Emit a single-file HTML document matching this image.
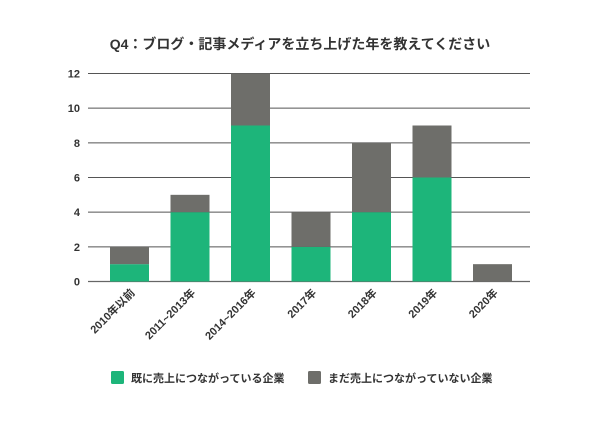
<!DOCTYPE html>
<html><head><meta charset="utf-8"><style>
body{margin:0;background:#fff;}
svg text{font-family:"Liberation Sans","Noto Sans CJK JP",sans-serif;}
</style></head><body>
<svg id="chart" width="600" height="419" viewBox="0 0 600 419" xmlns="http://www.w3.org/2000/svg">
<text x="300" y="49" text-anchor="middle" font-size="14" font-weight="bold" fill="#333">Q4：ブログ・記事メディアを立ち上げた年を教えてください</text>
<g id="grid"></g><g id="bars"></g><g id="xlabels"></g>
<g>
<rect x="111" y="371" width="13" height="13" rx="1.5" fill="#1db57a"/>
<text x="131" y="382" font-size="11" font-weight="bold" fill="#333">既に売上につながっている企業</text>
<rect x="308" y="371" width="13" height="13" rx="1.5" fill="#6e6e6a"/>
<text x="328" y="382" font-size="11" font-weight="bold" fill="#333">まだ売上につながっていない企業</text>
</g>
</svg>
<script>
const categories=["2010年以前","2011~2013年","2014~2016年","2017年","2018年","2019年","2020年"];
const selling=[1,4,9,2,4,6,0];
const notSelling=[1,1,3,2,4,3,1];
const yTicks=[0,2,4,6,8,10,12];
const NS="http://www.w3.org/2000/svg";
const y0=281.5,yTop=73.5,yMax=12;
function y(v){return y0-(v/yMax)*(y0-yTop);}
function xc(i){return 129.5+i*60.5;}
const bw=39;
function mk(t,a,p){const e=document.createElementNS(NS,t);for(const k in a)e.setAttribute(k,a[k]);p.appendChild(e);return e;}
const grid=document.getElementById('grid');
yTicks.forEach(t=>{
  const l=mk('line',{x1:88,x2:530,y1:y(t),y2:y(t),stroke:t===0?'#666':'#555','stroke-width':t===0?1.3:1},grid);
  
  
  const tx=mk('text',{x:80,y:y(t)+4,'text-anchor':'end','font-size':11,'font-weight':'bold',fill:'#333'},grid);
  tx.textContent=t;
  
  
});
const bars=document.getElementById('bars'),xl=document.getElementById('xlabels');
categories.forEach((c,i)=>{
  const x=xc(i)-bw/2;
  if(selling[i]>0){
    const r=mk('rect',{x:x,y:y(selling[i]),width:bw,height:y(0)-y(selling[i]),fill:'#1db57a'},bars);
    
    
  }
  const tot=selling[i]+notSelling[i];
  const r2=mk('rect',{x:x,y:y(tot),width:bw,height:y(selling[i])-y(tot),fill:'#6e6e6a'},bars);
  
  
  const tx=mk('text',{x:0,y:0,'text-anchor':'end','font-size':11,'font-weight':'bold',fill:'#333',transform:`translate(${xc(i)+6},${y0+12}) rotate(-45)`},xl);
  tx.textContent=c;
  
  
});
</script>
</body></html>
